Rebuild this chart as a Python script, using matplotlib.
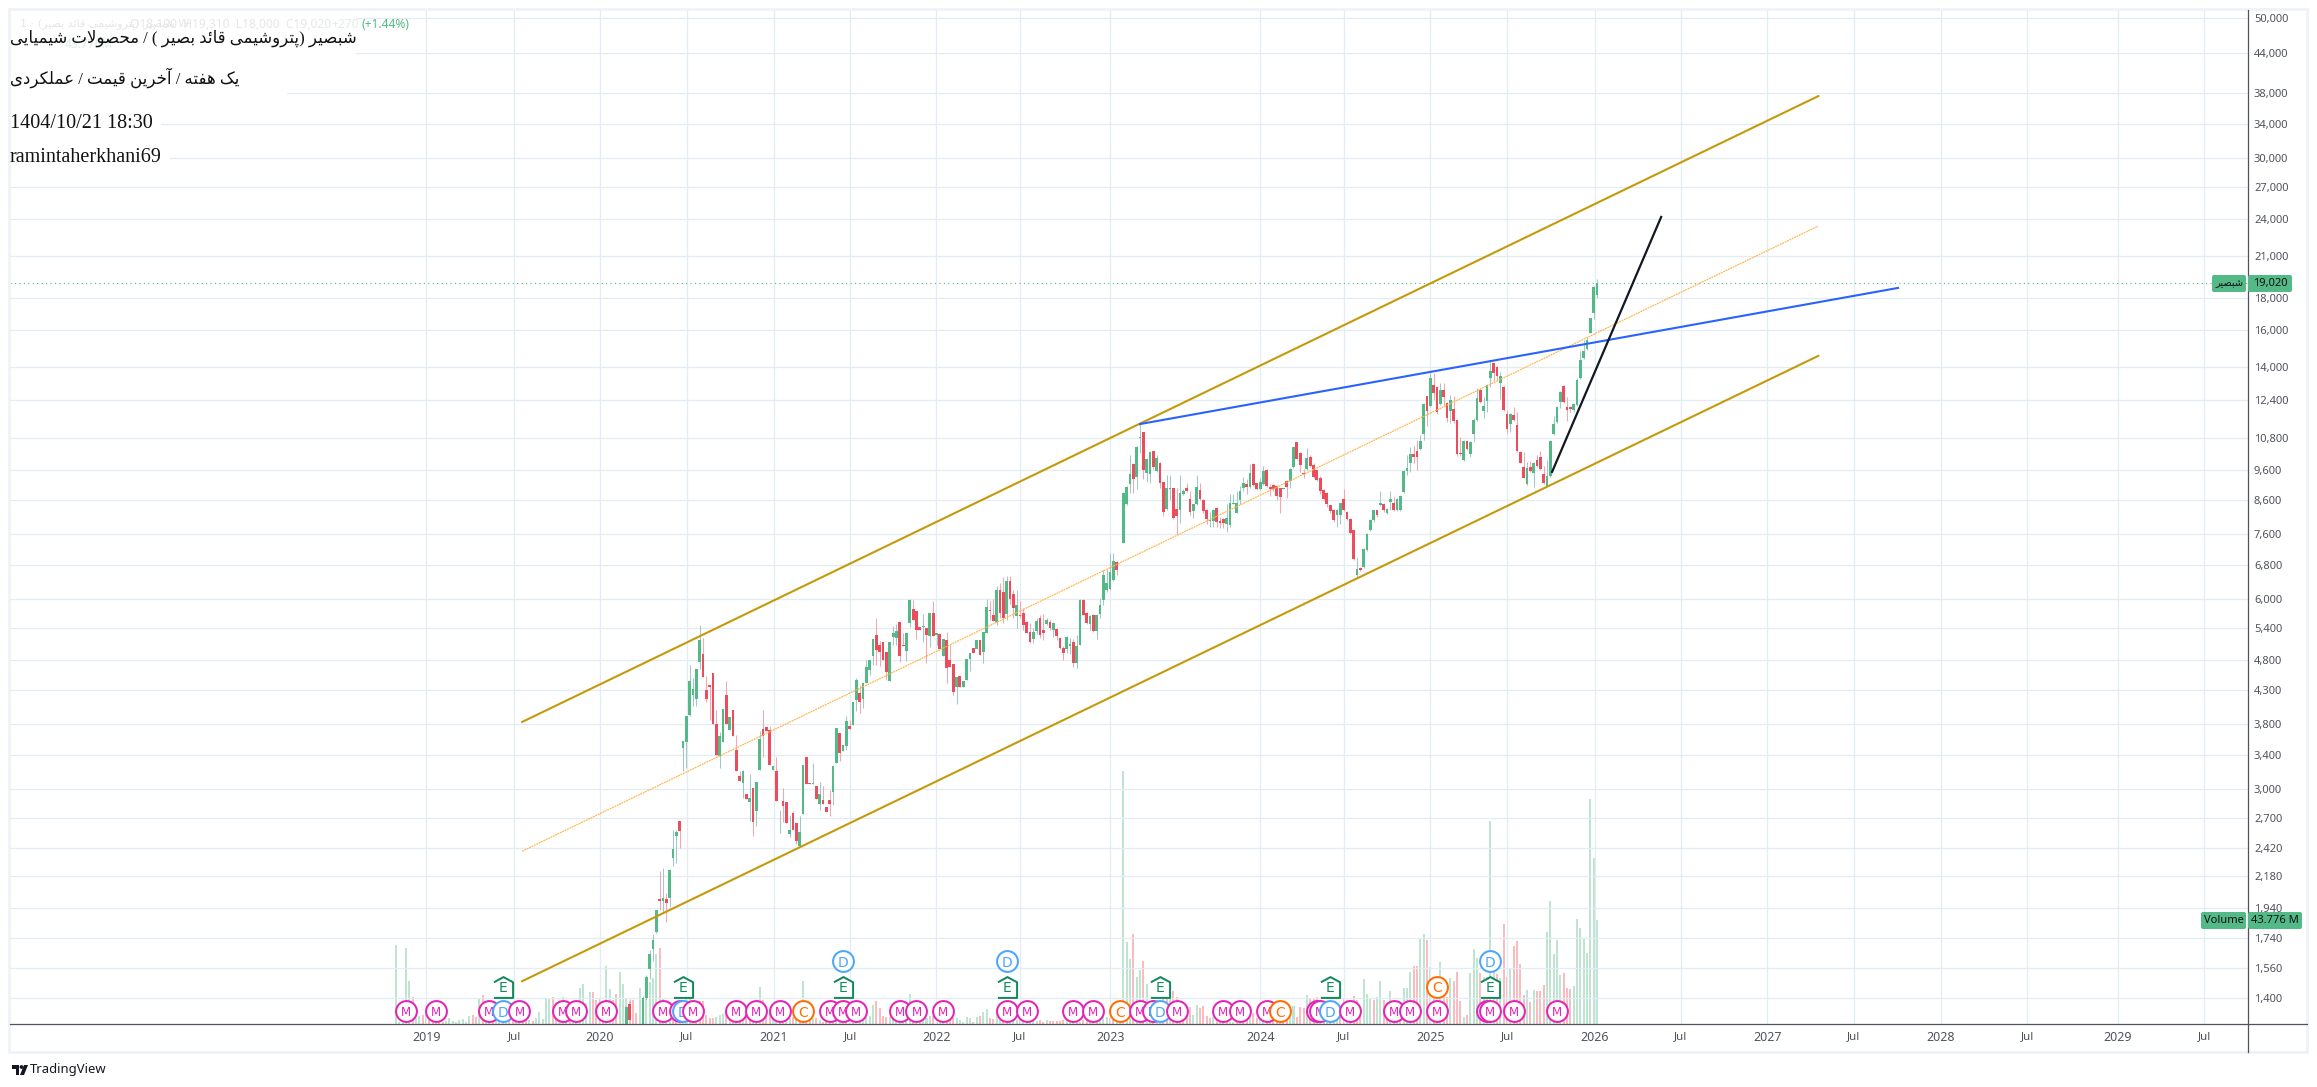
import matplotlib
matplotlib.use('Agg')
import numpy as np
import matplotlib.pyplot as plt
from matplotlib.patches import Rectangle, Polygon, Circle, FancyBboxPatch

# Price axis labels
price_ticks = [50000, 44000, 38000, 34000, 30000, 27000, 24000, 21000, 18000, 16000, 14000,
               12400, 10800, 9600, 8600, 7600, 6800, 6000, 5400, 4800, 4300, 3800, 3400,
               3000, 2700, 2420, 2180, 1940, 1740, 1560, 1400]

# Time axis, as bar number
time_ticks = [9.1, 35.4, 61, 87.2, 113.3, 136.1, 161.9, 187, 214.1, 259.1, 284, 310, 333.1,
              359.3, 385, 411, 437, 463, 489, 516, 542]
time_labels = ['2019', 'Jul', '2020', 'Jul', '2021', 'Jul', '2022', 'Jul', '2023', '2024', 'Jul',
               '2025', 'Jul', '2026', 'Jul', '2027', 'Jul', '2028', 'Jul', '2029', 'Jul']

# Weekly candles, first one is bar 69
opens = [1250, 1367, 1230, 1235, 1240, 1260, 1400, 1555, 1675, 1780,
         2010, 1990, 2010, 2015, 2330, 2525, 2670, 3480, 3555, 3925,
         4225, 4165, 4765, 4900, 4300, 4380, 4580, 3800, 3380, 3555,
         4225, 3720, 4000, 3456, 3145, 3065, 2945, 2860, 3010, 2770,
         3215, 3730, 3755, 3720, 3215, 3205, 2745, 2870, 2860, 2545,
         2750, 2650, 2440, 2740, 3365, 3065, 3055, 3030, 2840, 2880,
         2810, 2880, 2965, 3295, 3680, 3440, 3510, 3770, 3785, 4150,
         4255, 4165, 4415, 4630, 4870, 5260, 5075, 5130, 4945, 4440,
         5230, 5210, 5515, 5075, 4960, 5500, 5780, 5740, 5415, 5415,
         5395, 5240, 5700, 5260, 5280, 4870, 5165, 4800, 4730, 4350,
         4525, 4350, 4460, 4815, 5015, 5000, 5165, 4945, 5300, 5770,
         5650, 5515, 6200, 6150, 5680, 6400, 6100, 5640, 5660, 5700,
         5515, 5320, 5185, 5335, 5590,
         5355, 5480, 5515, 5355, 5375, 5205, 5015, 5000, 5055, 5130,
         4750, 5075, 5975, 5700, 5480, 5660, 5335, 5680, 5975, 6200,
         6220, 6430, 6865, 7240, 7360, 8480, 9130, 9815, 9360, 10790,
         11030, 9495, 9460, 10290, 9565, 9850, 9190, 8330, 8960, 8990,
         8330, 8300, 8800, 8990, 8640, 8270, 8480, 8925, 8610, 8300,
         7970, 7970, 8360, 7970, 8030, 7880, 7850, 8490, 8210, 8610,
         8990, 9130, 9030, 9815, 9160, 8960, 9130, 9600, 9030, 9100,
         9070, 8990, 8960, 9230, 9230, 9705, 10640, 10220, 9500, 9640,
         10070, 9780, 9600, 9330, 8925, 8830, 8440, 8300, 8150, 8150,
         8640, 8240, 8030, 7715, 6550, 6710, 6740, 7170, 7715,
         8000, 8300,
         8440, 8490, 8210, 8550, 8520, 8300, 8300, 8860, 9570, 9850,
         10180, 10290, 10370, 10940, 12580, 12130, 13100, 13020, 12220, 12860,
         12260, 11900, 12000, 11520, 10220, 9960, 10670, 10180, 10940, 11520,
         12860, 11900, 12350, 13430, 14200, 14000, 13220, 13020, 11800, 11360,
         11760, 11310, 10250, 9710, 9130, 9710, 9500, 9960, 10070, 9460,
         9070, 9400, 10950, 11440, 12300, 13060, 12090, 12090, 11950, 12170,
         13430, 14460, 14930, 15860, 17050, 18190]
highs = [1360, 1395, 1240, 1245, 1250, 1410, 1520, 1665, 1767, 1930,
         2225, 2250, 2055, 2240, 2580, 2580, 2670, 3570, 3910, 4720,
         4490, 4650, 5455, 5200, 4525, 4380, 4580, 4000, 3695, 4015,
         4440, 3900, 4000, 3655, 3205, 3215, 2945, 3170, 3010, 3075,
         3700, 4000, 3755, 3770, 3260, 3365, 2780, 3010, 2860, 2730,
         2770, 2650, 2720, 3275, 3365, 3065, 3300, 3030, 3075, 3030,
         2810, 2990, 3260, 3745, 3680, 3525, 3915, 3855, 4120, 4490,
         4380, 4415, 4800, 4800, 5185, 5590, 5150, 5130, 4945, 5130,
         5430, 5475, 5515, 5300, 5300, 6000, 5975, 5740, 5415, 5680,
         5395, 5700, 5945, 5300, 5280, 5185, 5320, 5075, 4730, 4510,
         4525, 4440, 4815, 4925, 5015, 5165, 5165, 5320, 6000, 5950,
         6000, 6300, 6350, 6500, 6520, 6530, 6200, 6200, 5950, 5800,
         5530, 5500, 5400, 5600, 5650,
         5680, 5600, 5555, 5520, 5400, 5230, 5050, 5250, 5205, 5190,
         5260, 5990, 5990, 5720, 5650, 5680, 5680, 6020, 6665, 6700,
         7095, 7095, 6900, 7250, 8850, 9050, 10140, 9850, 10470, 11400,
         11050, 10050, 10300, 10300, 10140, 9900, 9200, 9430, 9430, 9000,
         8990, 9430, 8960, 9160, 8900, 8500, 9430, 9160, 8640, 8320,
         8240, 8320, 8400, 8100, 8050, 8500, 8800, 8800, 8900, 9050,
         9360, 9300, 9815, 9850, 9170, 9330, 9740, 9650, 9120, 9130,
         9100, 9000, 9000, 9260, 9680, 10460, 10650, 10250, 9650, 10400,
         10140, 9850, 9620, 9400, 8960, 8860, 8460, 8320, 8320, 8530,
         8960, 8260, 8050, 7730, 7000, 6730, 7220, 7620, 8020,
         8300, 8310,
         8890, 8510, 8350, 8890, 8700, 8670, 8770, 9600, 10140, 10440,
         10500, 10700, 10900, 12250, 12600, 13700, 13680, 13050, 13200, 13200,
         12300, 12630, 12580, 11550, 10830, 10700, 10700, 10660, 11630, 12950,
         12900, 12540, 13130, 14350, 14220, 14020, 13750, 13040, 11950, 11820,
         12090, 11860, 10290, 10250, 9900, 9920, 9880, 10140, 10290, 9740,
         9960, 10700, 11720, 12130, 12800, 13100, 12540, 12150, 12250, 13450,
         14830, 15440, 15620, 16750, 18800, 19310]
lows = [1240, 1290, 1220, 1225, 1230, 1250, 1390, 1500, 1600, 1770,
        1930, 1915, 1845, 1950, 2265, 2290, 2420, 3205, 3240, 3920,
        4060, 4060, 4650, 4510, 4120, 3855, 3800, 3395, 3240, 3555,
        3800, 3720, 3640, 3205, 3090, 2905, 2890, 2670, 2525, 2620,
        3215, 3375, 3705, 3275, 3215, 2870, 2555, 2660, 2650, 2515,
        2580, 2455, 2430, 2740, 3055, 3055, 3050, 2890, 2780, 2840,
        2760, 2720, 2830, 3295, 3320, 3440, 3456, 3735, 3785, 3985,
        3955, 4030, 4415, 4540, 4720, 4720, 4700, 4800, 4460, 4440,
        5070, 5070, 4765, 5060, 4780, 5415, 5555, 5185, 5355, 5130,
        4750, 5035, 5240, 5070, 5000, 4870, 4415, 4680, 4225, 4085,
        4350, 4350, 4460, 4610, 4925, 5000, 4890, 4750, 5300, 5555,
        5540, 5450, 5600, 5500, 5550, 5900, 5600, 5400, 5600, 5350,
        5290, 5100, 5100, 5280, 5200,
        5165, 5450, 5350, 5220, 5165, 4990, 4810, 4920, 4900, 4680,
        4660, 5070, 5650, 5480, 5355, 5320, 5185, 5600, 5860, 6150,
        6200, 6400, 6550, 7240, 7350, 8460, 8830, 8830, 8960, 10220,
        9295, 9190, 9150, 9650, 9530, 9000, 8120, 8300, 8610, 8040,
        7600, 7920, 8780, 8850, 8150, 8050, 8450, 8620, 8200, 7900,
        7800, 7800, 7800, 7770, 7770, 7660, 7800, 8470, 8200, 8500,
        8900, 8800, 8990, 9050, 8930, 8930, 9100, 9040, 8730, 8900,
        8600, 8210, 8950, 8670, 9000, 9690, 9990, 9530, 9330, 9620,
        9700, 9320, 9230, 8800, 8600, 8400, 8200, 7950, 7800, 7900,
        8280, 8000, 7600, 6920, 6480, 6650, 6720, 7150, 7700,
        7950, 8100,
        8420, 8250, 8190, 8300, 8280, 8280, 8280, 8830, 9430, 9530,
        9850, 9600, 10330, 10710, 11300, 12100, 12400, 11800, 12200, 12130,
        11440, 11400, 11400, 10100, 10100, 9940, 10330, 10070, 10640, 11500,
        12280, 11600, 11860, 13000, 13300, 13340, 12470, 11900, 10990, 11030,
        11480, 10270, 9850, 9320, 9100, 9550, 9030, 9720, 9620, 9140,
        9050, 9380, 10900, 11420, 12040, 12280, 11500, 11860, 11850, 12150,
        13400, 14400, 14900, 15850, 16670, 18000]
closes = [1353, 1290, 1235, 1240, 1245, 1400, 1510, 1640, 1727, 1925,
          1990, 2015, 1975, 2230, 2410, 2560, 2570, 3570, 3910, 4440,
          4315, 4650, 5165, 4510, 4165, 4350, 3800, 3395, 3640, 4015,
          3800, 3900, 3640, 3205, 3090, 3205, 2890, 2905, 2660, 3075,
          3600, 3640, 3705, 3275, 3260, 2870, 2750, 2820, 2650, 2580,
          2580, 2480, 2560, 3275, 3055, 3055, 3060, 2890, 2945, 2840,
          2760, 2840, 3260, 3745, 3415, 3525, 3840, 3735, 4120, 4460,
          4120, 4415, 4680, 4800, 5185, 4980, 4945, 4800, 4595, 5130,
          5300, 5335, 4880, 5060, 5300, 5975, 5555, 5355, 5355, 5430,
          5260, 5700, 5240, 5300, 5000, 5185, 4665, 4680, 4270, 4510,
          4350, 4440, 4815, 4925, 4925, 5165, 4890, 5320, 5825, 5750,
          5540, 6200, 5700, 5600, 6400, 6000, 5800, 5860, 5640, 5455,
          5300, 5130, 5320, 5535, 5260,
          5300, 5555, 5395, 5495, 5240, 5015, 4925, 5225, 5090, 4750,
          5060, 5975, 5660, 5495, 5640, 5335, 5660, 5880, 6550, 6360,
          6620, 6890, 6665, 7250, 8830, 9030, 9470, 9295, 10440, 10830,
          9600, 10000, 10255, 9705, 10030, 9160, 8240, 8990, 8990, 8060,
          8120, 8830, 8890, 8890, 8240, 8470, 9030, 8640, 8270, 8030,
          8000, 8300, 7940, 7910, 7910, 8060, 8520, 8520, 8520, 8890,
          9160, 9030, 9500, 9100, 8960, 9190, 9570, 9070, 8960, 8960,
          8730, 8700, 8990, 9030, 9640, 10440, 10000, 9780, 9480, 10030,
          9740, 9360, 9260, 8890, 8640, 8470, 8270, 8000, 8300, 8510,
          8300, 8030, 7630, 6940, 6690, 6665, 7200, 7600, 8000,
          8300, 8150,
          8520, 8300, 8330, 8640, 8300, 8640, 8730, 9570, 9670, 10180,
          10070, 10070, 10670, 12220, 11900, 13430, 12720, 11860, 12860, 12540,
          11600, 12400, 11480, 10180, 10180, 10670, 10370, 10640, 11520, 12480,
          12300, 12130, 13100, 13780, 13680, 13530, 13530, 11950, 11150, 11800,
          11520, 10290, 9850, 9330, 9670, 9570, 9850, 9740, 9640, 9160,
          9400, 10670, 11360, 12090, 12770, 12300, 11950, 12000, 12220, 13340,
          14350, 14830, 15440, 16730, 18730, 19020]

# Weekly volume in millions, from bar 0, g up, r down
volumes = [33.2, 1, 1, 31.8, 18, 11.2, 2.4, 3.4, 3.8, 3.8,
           1.7, 1.4, 1.4, 1, .7, 1.4, 2.5, 1.4, .8, 1.7,
           2.1, .8, 3.4, 3.8, 3.1, 10.5, 12.2, 4.5, 5.6, 3.1,
           5.9, 2.4, 1.5, 1.5, 1.5, 1.5, 1.5, 1.5, 1.5, 1.5,
           1.7, 1.4, 2.4, 5.2, 2.1, 10.9, 10.6, 11.3, 8.7, 9.4,
           11.2, 8.7, 9.4, 7.3, 8.7, 15, 16.8, 8.7, 13.6, 13.6,
           10, 10.8, 9.4, 24.4, 14.7, 10, 12.6, 22, 16.8, 10.5,
           9.8, 10, 4.5, 15, 10.5, 17, 17.8, 19.3, 29.4, 32.2,
           10.9, 8.7, 8.7, 7.3, 5.9, 5.9, 10, 11.5, 11.2, 10,
           9.4, 9.8, 9.7, 4, 2.4, 2.7, 3, 3.8, 4.2, 5.9,
           4.5, 3.8, 4.5, 5.2, 5.9, 6.6, 8.7, 5.6, 4.5, 15.7,
           10, 5.2, 4.5, 3, 2.4, 2.4, 2, 3.8, 2.4, 3,
           2.4, 1.7, 18, 1, 3.8, 2.4, 2.4, 1.7, 1, 1,
           1.5, 1.5, 1.5, 1, 1, 1, 1.7, 1.2, 1.7, 1,
           2.4, 2.8, 3.4, 8, 9.7, 6.7, 3.4, 3, 3, 2.4,
           1.7, 2.4, 1, 2.4, 12.6, 1.7, 1.7, 1, 2.4, 2.4,
           3.4, 3.4, 1, 2.4, 1.7, 1, 1.7, 2.4, 2.4, 1.7,
           1, 2.8, 2.4, .7, 2.8, 3.4, 4.9, 6.3, 2.4, 2,
           6.6, 8.7, 8.7, 7.3, 5.9, 2.4, 1.7, 1.7, 2, 1,
           1, 1.4, 1.4, 1.7, 1, 1.7, 1.3, 1.3, 1.3, 1.3,
           1.7, 2.4, 2, 1.4, 1.4, 1, 1.7, 1.7, 1.4, 1.7,
           1, 1.7, 3, 3, 2.4, 1.7, 1.4, 1.7, 106.5, 34.4,
           27.3, 37.8, 19.7, 22.7, 26.5, 16.8, 8.7, 5.9, 10, 8.7,
           10.9, 12.9, 15.7, 13.9, 11.5, 8.7, 7.3, 5.9, 7.3, 3.8,
           8, 6.9, 7.6, 3.4, 2.4, 3.1, 5.9, 1.7, 1, 1,
           1, 1, 1, .7, 1.4, 1.7, 3.4, 4.5, 2.4, 3.8,
           1.7, 2.4, 2.4, 1.7, 1.4, 1.4, 1.7, 3.1, 6.6, 7.6,
           3.1, 7.2, 6.9, 12.2, 10.9, 10.4, 11.4, 7.3, 7.3, 3.8,
           3.1, 3.1, 3.1, 3.1, 10.9, 10, 10, 11.7, 10, 2.8,
           18.9, 12.6, 10.7, 10, 11.4, 18.1, 10, 8.7, 13.9, 8.7,
           5.9, 8.7, 15.2, 15.2, 22.1, 24.4, 24.4, 35.9, 38, 35.3,
           24.1, 11.4, 10, 26, 11.4, 11.4, 19.2, 18.2, 21.9, 9.7,
           3.1, 3.8, 21.4, 31.6, 27.8, 21.4, 19.7, 19.7, 85.4, 21.9,
           21, 19.2, 42, 19.8, 23.6, 32.8, 34.9, 25.2, 12.2, 14.3,
           9.2, 14.3, 13.9, 13.9, 16.5, 38.7, 51.8, 29.5, 35.3, 20.6,
           21.4, 15.2, 14.8, 16.1, 44.2, 40.4, 36.2, 29.9, 94.7, 69.9, 43.776]
volume_sides = ('gggggrggrg' 'rrgrrggggg' 'gggrrgrggr' 'ggggrrggrr' 'grgggggrrg'
                'grrgrggggr' 'rrrggrrggg' 'rrrggggggr' 'gggrrggggg' 'rrrrrrgggr'
                'grgrgrrgrg' 'rrrggrrggr' 'grgrrgrgrr' 'rrggrrgrgg' 'ggggrrrrgg'
                'gggggrgrgg' 'grrggrrrgg' 'gggrgrggrr' 'ggrrgggrgg' 'gggrrgrrrr'
                'rgggrgrrrg' 'rgggrrgggg' 'grggrggrgg' 'rrgrrrrrrg' 'grrrrgrrrr'
                'ggrrrrgrrg' 'grrrrrrrgg' 'rrrgrrrrgg' 'rggrrgrrrr' 'gggrggrrgr'
                'grgggrrggr' 'grrgrrgrrr' 'grgggrgggg' 'rgrrgrrrrg' 'rgrrrggggg'
                'rrrgggggggg')

# Drawn lines: bar number and price at both ends
channel_bars = [37.8, 426.3]
channel_top = [3830, 37600]
channel_mid = [2390, 23400]
channel_low = [1487, 14570]
blue_bars = [223, 450.2]
blue_prices = [11360, 18670]
black_bars = [346.5, 379.2]
black_prices = [9540, 24190]

# Event flags, as bar number
m_bars = [3, 12, 28, 37, 50, 54, 63, 80, 85, 89, 102, 108, 115, 130, 134, 138, 151, 156, 164,
          183, 189, 203, 209, 223, 227, 234, 248, 253, 261, 276, 277, 286, 299, 304, 312, 327,
          328, 335, 348]
d_low_bars = [32, 86, 229, 280]
c_low_bars = [122, 217, 265]
d_high_bars = [134, 183, 328]
c_mid_bars = [312]
e_bars = [32, 86, 134, 183, 229, 280, 328]

last_price = 19020
last_volume = 43.776

assert len(opens) == len(highs) == len(lows) == len(closes) == 292, (len(opens), len(highs), len(lows), len(closes))
assert len(volumes) == 361 and len(volume_sides) == 361, (len(volumes), len(volume_sides))

W, H = 2317, 1087
GREEN = '#53b987'
RED = '#eb4d5c'
GRID = '#e2ecf2'
TEXT = '#50535e'

# Arabic forms: base code, then final, initial, medial for joining letters
JOINING = {'ئ': 0xFE89, 'ب': 0xFE8F, 'ت': 0xFE95, 'ح': 0xFEA1, 'خ': 0xFEA5, 'ش': 0xFEB5, 'ص': 0xFEB9,
           'ع': 0xFEC9, 'ف': 0xFED1, 'ق': 0xFED5, 'ل': 0xFEDD, 'م': 0xFEE1, 'ن': 0xFEE5, 'ه': 0xFEE9,
           'پ': 0xFB56, 'ک': 0xFB8E, 'ی': 0xFBFC}
RIGHT_ONLY = {'ا': 0xFE8D, 'آ': 0xFE81, 'د': 0xFEA9, 'ر': 0xFEAD, 'و': 0xFEED}


def farsi(text):
    # matplotlib does not shape Arabic, so pick the forms and reverse by hand
    text = text.replace('لا', '\uFEFB')
    out = []
    for n, ch in enumerate(text):
        prev_joins = n > 0 and text[n - 1] in JOINING
        next_joins = n + 1 < len(text) and (text[n + 1] in JOINING or text[n + 1] in RIGHT_ONLY or text[n + 1] == '\uFEFB')
        if ch == '\uFEFB':
            out.append('\uFEFC' if prev_joins else ch)
        elif ch in RIGHT_ONLY:
            out.append(chr(RIGHT_ONLY[ch] + (1 if prev_joins else 0)))
        elif ch in JOINING:
            step = 3 if prev_joins and next_joins else 1 if prev_joins else 2 if next_joins else 0
            out.append(chr(JOINING[ch] + step))
        else:
            out.append({'(': ')', ')': '('}.get(ch, ch))
    return ''.join(reversed(out))


fig = plt.figure(figsize=(W / 100, H / 100), dpi=100, facecolor='white')
rect = [10 / W, 1 - 1024 / H, (2247.7 - 10) / W, (1024 - 10) / H]
ax_vol = fig.add_axes(rect)
ax = fig.add_axes(rect, sharex=ax_vol)
ax_vol.set_zorder(0)
ax.set_zorder(1)
ax.patch.set_visible(False)

# Volume
bars = np.arange(len(volumes))
vol_colors = ['#bfe4d1' if s == 'g' else '#f8bcc1' for s in volume_sides]
ax_vol.bar(bars, volumes, width=0.6, color=vol_colors, linewidth=0)
ax_vol.set_ylim(0, 427)
ax_vol.axis('off')

# Candles
o, h, l, c = [np.array(a, dtype=float) for a in (opens, highs, lows, closes)]
candle_bars = np.arange(361 - len(o), 361)
up = c >= o
ax.vlines(candle_bars[up], l[up], h[up], color='#9fc9c6', linewidth=0.75, zorder=3)
ax.vlines(candle_bars[~up], l[~up], h[~up], color='#f5a6b0', linewidth=0.75, zorder=3)
ax.bar(candle_bars, np.abs(c - o), bottom=np.minimum(o, c), width=0.82,
       color=[GREEN if u else RED for u in up], linewidth=0, zorder=3.5)

ax.set_yscale('log')
ax.set_xlim(-115.7, 555)
ax.set_ylim(1272, 51480)

# Drawings
ax.plot(channel_bars, channel_top, color='#c49a0a', linewidth=1.5, zorder=4)
ax.plot(channel_bars, channel_low, color='#c49a0a', linewidth=1.5, zorder=4)
ax.plot(channel_bars, channel_mid, color='#ffb74d', linewidth=0.9, linestyle=(0, (1.5, 0.6)), zorder=4)
ax.plot(blue_bars, blue_prices, color='#2962ff', linewidth=1.5, zorder=4)
ax.plot(black_bars, black_prices, color='#131722', linewidth=1.6, zorder=4)
ax.axhline(last_price, color=GREEN, linewidth=0.8, linestyle=(0, (1, 3)), zorder=2.5)

# Axes and grid
ax.yaxis.tick_right()
ax.set_yticks(price_ticks)
ax.set_yticklabels([f'{p:,}' for p in price_ticks], fontsize=8, family='Noto Sans', color=TEXT)
ax.minorticks_off()
ax.set_xticks(time_ticks)
ax.set_xticklabels(time_labels, fontsize=8.3, family='Noto Sans', color=TEXT)
for label, name in zip(ax.get_xticklabels(), time_labels):
    if name != 'Jul':
        label.set_fontweight('medium')
        label.set_fontsize(9)
ax.tick_params(axis='y', length=0, pad=4.5)
ax.tick_params(axis='x', length=0, pad=5)
ax.grid(True, color=GRID, linewidth=0.9)
ax.set_axisbelow(True)
for side in ax.spines:
    ax.spines[side].set_visible(False)

# Event flags, stacked left to right
tr = ax.get_xaxis_transform()
ROW_LOW, ROW_MID, ROW_HIGH = 0.0128, 0.0368, 0.0621
HOUSE = [(-0.92, -1), (0.92, -1), (0.92, 0.5), (0, 1), (-0.92, 0.5)]
flags = [(b, 'M', '#e324b5', ROW_LOW) for b in m_bars]
flags += [(b, 'D', '#4ea6fb', ROW_LOW) for b in d_low_bars]
flags += [(b, 'C', '#ff6d00', ROW_LOW) for b in c_low_bars]
flags += [(b, 'D', '#4ea6fb', ROW_HIGH) for b in d_high_bars]
flags += [(b, 'C', '#ff6d00', ROW_MID) for b in c_mid_bars]
flags += [(b, 'E', '#128a5c', ROW_MID) for b in e_bars]
for n, (b, letter, col, row) in enumerate(sorted(flags, key=lambda f: f[0])):
    z = 6 + n * 0.01
    marker = HOUSE if letter == 'E' else 'o'
    ax.scatter([b], [row], s=225, marker=marker, facecolor='white',
               edgecolor=col, linewidth=1.45, transform=tr, zorder=z, clip_on=False)
    ax.text(b, row, letter, transform=tr, color=col, fontsize=8.5 if letter == 'M' else 10,
            ha='center', va='center_baseline', zorder=z + 0.001, family='DejaVu Sans')

# Everything around the pane, in image pixels
ov = fig.add_axes([0, 0, 1, 1], zorder=5)
ov.set_xlim(0, W)
ov.set_ylim(H, 0)
ov.axis('off')

for x0, x1, y0, y1 in [(10, 356, 12, 60), (10, 287, 60, 100), (10, 161, 100, 140), (10, 170, 140, 170)]:
    ov.add_patch(Rectangle((x0, y0), x1 - x0, y1 - y0, facecolor='white', edgecolor='none'))

ov.add_patch(Rectangle((9, 9), 2298, 1043, fill=False, edgecolor='#eff2f8', linewidth=2))
ov.plot([2247.7, 2247.7], [10, 1052], color=TEXT, linewidth=0.9)
ov.plot([10, 2307], [1024, 1024], color=TEXT, linewidth=0.9)

# Faint status line under the title
ov.text(20, 24, '1 · ' + farsi('شبصیر (پتروشیمی قائد بصیر)') + ' W', fontsize=8, color='#e4e6e8', va='center', family='DejaVu Sans')
ov.text(130, 24, 'O18,190  H19,310  L18,000  C19,020', fontsize=8.6, color='#e4e6e8', va='center', family='Noto Sans')
ov.text(331, 24, '+270', fontsize=8.6, color='#dcefe5', va='center', family='Noto Sans')
ov.text(361, 24, '(+1.44%)', fontsize=8.6, color=GREEN, va='center', family='Noto Sans')
ov.text(65, 45, '43.776M', fontsize=8.6, color='#dcefe5', va='center', family='Noto Sans')

# Title block
serif = ['Liberation Serif', 'DejaVu Sans']
ov.text(10, 38.5, farsi('شبصیر (پتروشیمی قائد بصیر ) / محصولات شیمیایی'), fontsize=12, color='#111111', va='center', family=serif)
ov.text(10, 78, farsi('یک هفته / آخرین قیمت / عملکردی'), fontsize=12, color='#111111', va='center', family=serif)
ov.text(10, 123, '1404/10/21 18:30', fontsize=14.5, color='#111111', va='center', family=serif)
ov.text(10, 158, 'ramintaherkhani69', fontsize=14.5, color='#111111', va='center', family=serif)


def tag(x0, x1, y0, y1):
    ov.add_patch(FancyBboxPatch((x0 + 2, y0 + 2), x1 - x0 - 4, y1 - y0 - 4, boxstyle='round,pad=2',
                                facecolor=GREEN, edgecolor='none', zorder=7))


tag(2212, 2246, 275, 292)
tag(2248, 2292, 275, 292)
ov.text(2229, 283.5, farsi('شبصیر'), fontsize=7, color='#111111', ha='center', va='center', zorder=8, family='DejaVu Sans')
ov.text(2270, 283.5, f'{last_price:,}', fontsize=8, color='#111111', ha='center', va='center', zorder=8, family='Noto Sans')
tag(2201, 2246, 912, 929)
tag(2248, 2302, 912, 929)
ov.text(2223.5, 920.5, 'Volume', fontsize=8, color='#111111', ha='center', va='center', zorder=8, family='Noto Sans')
ov.text(2275, 920.5, f'{last_volume:.3f} M', fontsize=8, color='#111111', ha='center', va='center', zorder=8, family='Noto Sans')

# TradingView mark
ov.add_patch(Polygon([(12, 1065), (19, 1065), (19, 1075), (15.5, 1075), (15.5, 1069), (12, 1069)], facecolor='#131722', edgecolor='none'))
ov.add_patch(Circle((21.5, 1067), 1.9, facecolor='#131722', edgecolor='none'))
ov.add_patch(Polygon([(20, 1075), (24, 1065), (28, 1065), (24, 1075)], facecolor='#131722', edgecolor='none'))
ov.text(30, 1070, 'TradingView', fontsize=9.4, fontweight='bold', color='#131722', va='center', family='Noto Sans')

fig.savefig('out.png', dpi=100)
